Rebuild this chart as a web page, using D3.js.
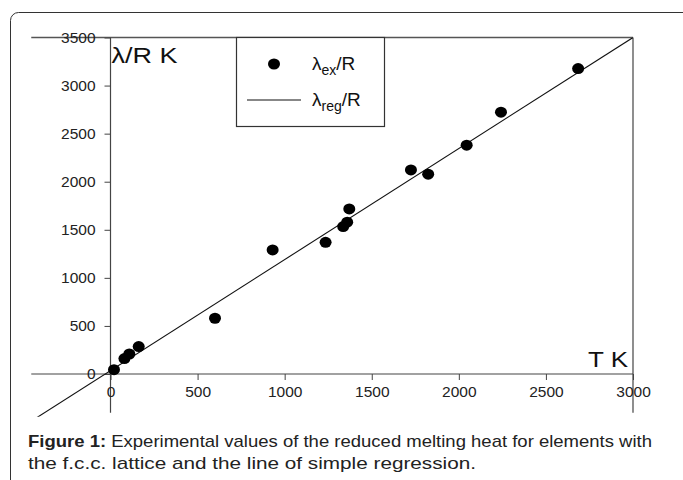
<!DOCTYPE html>
<html>
<head>
<meta charset="utf-8">
<script src="https://cdn.jsdelivr.net/npm/d3@7"></script>
<style>
  body { margin: 0; background: #fff; }
  text { font-family: "Liberation Sans", Arial, sans-serif; }
</style>
</head>
<body>
<script>
// melting temperature T (K) and reduced melting heat lambda/R (K)
var tempK = [20, 80, 108, 162, 600, 931, 1235, 1336, 1359, 1371, 1725, 1824, 2045, 2242, 2685];
var lambdaR = [45, 160, 208, 285, 580, 1290, 1370, 1533, 1579, 1717, 2123, 2078, 2380, 2723, 3177];
var xTicks = [0, 500, 1000, 1500, 2000, 2500, 3000];
var yTicks = [0, 500, 1000, 1500, 2000, 2500, 3000, 3500];
// simple regression line  lambda/R = a + b*T
var regA = 35, regB = 1.155;

var svg = d3.select("body")
      .append("svg")
      .attr("width", 683)
      .attr("height", 480);

svg.append("rect").attr("width", 683).attr("height", 480).attr("fill", "#fff");

// outer rounded frame of the figure
svg.append("rect")
  .attr("x", 10.5).attr("y", 12.5)
  .attr("width", 720).attr("height", 520)
  .attr("rx", 8)
  .attr("fill", "none")
  .attr("stroke", "#333")
  .attr("stroke-width", 1);

var x = d3.scaleLinear().domain([0, 3000]).range([110.5, 633]);
var y = d3.scaleLinear().domain([0, 3500]).range([374, 37.5]);
var xMin = -455, yMin = -445;

var lineCol = "#444";

// frame: top and right
svg.append("line")
  .attr("x1", x(xMin)).attr("x2", x(3000))
  .attr("y1", y(3500)).attr("y2", y(3500))
  .attr("stroke", "#555").attr("stroke-width", 1.5);
svg.append("line")
  .attr("x1", x(3000)).attr("x2", x(3000))
  .attr("y1", y(3500)).attr("y2", y(yMin) - 4)
  .attr("stroke", lineCol).attr("stroke-width", 1.2);

// axes through the origin
svg.append("line")
  .attr("x1", x(xMin)).attr("x2", x(3000))
  .attr("y1", y(0)).attr("y2", y(0))
  .attr("stroke", lineCol).attr("stroke-width", 1.2);
svg.append("line")
  .attr("x1", x(0)).attr("x2", x(0))
  .attr("y1", y(3500)).attr("y2", y(yMin) - 4)
  .attr("stroke", lineCol).attr("stroke-width", 1.2);

var yAxis = svg.append("g")
  .attr("transform", "translate(" + x(0) + ",0)")
  .call(d3.axisLeft(y).tickValues(yTicks).tickSize(6).tickPadding(9).tickFormat(d3.format("d")));
yAxis.select(".domain").remove();

var xAxis = svg.append("g")
  .attr("transform", "translate(0," + y(0) + ")")
  .call(d3.axisBottom(x).tickValues(xTicks).tickSize(6).tickPadding(6).tickFormat(d3.format("d")));
xAxis.select(".domain").remove();

svg.selectAll(".tick line").attr("stroke", lineCol);
svg.selectAll(".tick text")
  .attr("font-family", "Liberation Sans, Arial, sans-serif")
  .attr("font-size", 15.5)
  .attr("fill", "#222");

// axis titles
svg.append("text")
  .attr("x", x(0) + 1).attr("y", 63)
  .attr("font-size", 22).attr("fill", "#111")
  .attr("textLength", 66).attr("lengthAdjust", "spacingAndGlyphs")
  .text("λ/R K");
svg.append("text")
  .attr("x", 588).attr("y", y(0) - 7)
  .attr("font-size", 22).attr("fill", "#111")
  .attr("textLength", 40).attr("lengthAdjust", "spacingAndGlyphs")
  .text("T K");

// regression line, clipped to the plot area
svg.append("clipPath").attr("id", "plot")
  .append("rect")
  .attr("x", x(xMin)).attr("y", y(3500))
  .attr("width", x(3000) - x(xMin)).attr("height", y(yMin) - y(3500));

var regT = [-450, 3000];
svg.append("path")
  .datum(regT)
  .attr("clip-path", "url(#plot)")
  .attr("fill", "none")
  .attr("stroke", "#111")
  .attr("stroke-width", 1.1)
  .attr("d", d3.line().x(function(d) { return x(d); }).y(function(d) { return y(regA + regB * d); }));

// experimental points
svg.selectAll(".pt")
  .data(tempK)
  .enter()
  .append("ellipse")
  .attr("class", "pt")
  .attr("cx", function(d) { return x(d); })
  .attr("cy", function(d, i) { return y(lambdaR[i]); })
  .attr("rx", 6).attr("ry", 5.5)
  .attr("fill", "#000");

// legend
var lg = svg.append("g");
lg.append("rect")
  .attr("x", 236.5).attr("y", 37.5)
  .attr("width", 148).attr("height", 89)
  .attr("fill", "#fff")
  .attr("stroke", "#333").attr("stroke-width", 1.2);
lg.append("ellipse").attr("cx", 274).attr("cy", 64).attr("rx", 6).attr("ry", 5.5).attr("fill", "#000");
lg.append("line").attr("x1", 247).attr("x2", 301).attr("y1", 100).attr("y2", 100)
  .attr("stroke", "#111").attr("stroke-width", 1.1);

var t1 = lg.append("text").attr("x", 312).attr("y", 70).attr("font-size", 19).attr("fill", "#111");
t1.append("tspan").text("λ");
t1.append("tspan").attr("dy", 5).attr("font-size", 14).text("ex");
t1.append("tspan").attr("dy", -5).text("/R");

var t2 = lg.append("text").attr("x", 312).attr("y", 106).attr("font-size", 19).attr("fill", "#111");
t2.append("tspan").text("λ");
t2.append("tspan").attr("dy", 5).attr("font-size", 14).text("reg");
t2.append("tspan").attr("dy", -5).text("/R");

// caption
var cap = svg.append("g").attr("font-size", 17).attr("fill", "#222");
var c1 = cap.append("text").attr("x", 28).attr("y", 447)
  .attr("textLength", 624).attr("lengthAdjust", "spacingAndGlyphs");
c1.append("tspan").attr("font-weight", "bold").text("Figure 1:");
c1.append("tspan").text(" Experimental values of the reduced melting heat for elements with");
cap.append("text").attr("x", 28).attr("y", 469)
  .attr("textLength", 448).attr("lengthAdjust", "spacingAndGlyphs")
  .text("the f.c.c. lattice and the line of simple regression.");
</script>
</body>
</html>
